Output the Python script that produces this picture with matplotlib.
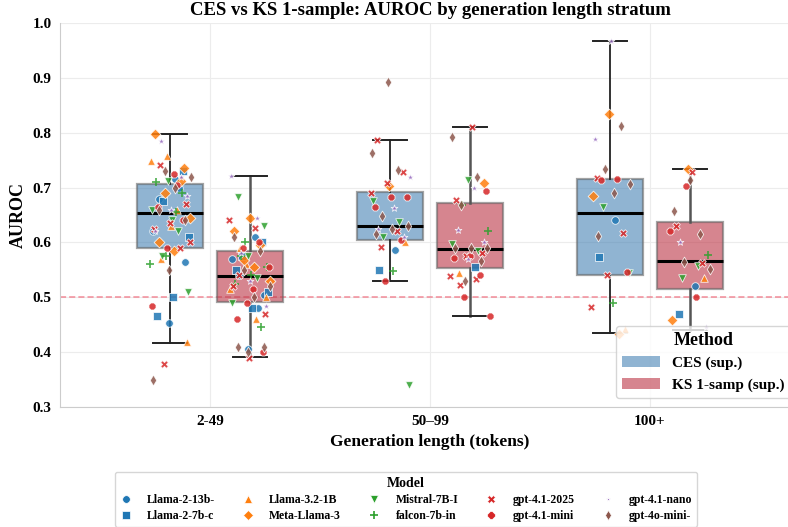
import matplotlib
matplotlib.use("Agg")
import matplotlib.pyplot as plt
from matplotlib.patches import Patch
from matplotlib.lines import Line2D
import numpy as np

# ---------------- data ----------------
strata = ["2-49", "50–99", "100+"]
methods = ["CES (sup.)", "KS 1-samp (sup.)"]
models = ["Llama-2-13b-", "Llama-2-7b-c", "Llama-3.2-1B", "Meta-Llama-3", "Mistral-7B-I",
          "falcon-7b-in", "gpt-4.1-2025", "gpt-4.1-mini", "gpt-4.1-nano", "gpt-4o-mini-"]

# box statistics per stratum: [2-49, 50-99, 100+]
ces_q1 = [0.589, 0.605, 0.541]
ces_med = [0.653, 0.630, 0.653]
ces_q3 = [0.707, 0.692, 0.716]
ces_lo = [0.417, 0.530, 0.434]
ces_hi = [0.797, 0.786, 0.967]

ks_q1 = [0.492, 0.553, 0.515]
ks_med = [0.538, 0.588, 0.567]
ks_q3 = [0.585, 0.671, 0.637]
ks_lo = [0.392, 0.466, 0.440]
ks_hi = [0.722, 0.810, 0.734]

# per-model AUROC values (order of `models`)
ces_short = [
    [0.715, 0.68, 0.565, 0.453, 0.62, 0.70],
    [0.675, 0.61, 0.50, 0.465, 0.73],
    [0.757, 0.748, 0.66, 0.57, 0.418, 0.63],
    [0.797, 0.712, 0.69, 0.645, 0.585, 0.60, 0.735],
    [0.712, 0.66, 0.62, 0.575, 0.51, 0.64],
    [0.71, 0.69, 0.575, 0.56, 0.655],
    [0.742, 0.67, 0.635, 0.625, 0.59, 0.378, 0.60],
    [0.725, 0.665, 0.64, 0.59, 0.485, 0.705],
    [0.785, 0.685, 0.66, 0.62, 0.72],
    [0.73, 0.72, 0.70, 0.66, 0.64, 0.55, 0.35],
]
ks_short = [
    [0.61, 0.54, 0.505, 0.405, 0.57, 0.48],
    [0.575, 0.51, 0.48, 0.55, 0.60],
    [0.56, 0.515, 0.46, 0.59, 0.50],
    [0.645, 0.62, 0.595, 0.568, 0.53, 0.555],
    [0.683, 0.63, 0.575, 0.49, 0.535],
    [0.575, 0.555, 0.54, 0.525, 0.445, 0.60],
    [0.64, 0.627, 0.54, 0.47, 0.39, 0.52],
    [0.60, 0.59, 0.555, 0.515, 0.46, 0.40, 0.49],
    [0.722, 0.645, 0.58, 0.485, 0.53],
    [0.61, 0.585, 0.55, 0.52, 0.50, 0.41, 0.41, 0.40],
]
ces_mid = [
    [0.586],
    [0.55],
    [0.60],
    [0.703],
    [0.676, 0.637, 0.61, 0.34],
    [0.548],
    [0.787, 0.728, 0.709, 0.69, 0.62, 0.591],
    [0.683, 0.683, 0.665, 0.605, 0.53],
    [0.72, 0.663, 0.625, 0.61],
    [0.892, 0.763, 0.732, 0.648, 0.63, 0.625, 0.615],
]
ks_mid = [
    [],
    [0.555],
    [0.545],
    [0.709],
    [0.714, 0.597, 0.585],
    [0.668, 0.620],
    [0.810, 0.677, 0.58, 0.575, 0.538, 0.533, 0.522],
    [0.693, 0.575, 0.572, 0.54, 0.501, 0.466],
    [0.70, 0.622, 0.60, 0.57],
    [0.792, 0.72, 0.668, 0.59, 0.59, 0.59, 0.567, 0.53],
]
ces_long = [
    [0.641],
    [0.573],
    [0.442],
    [0.834, 0.685, 0.433],
    [0.665, 0.545],
    [0.489],
    [0.717, 0.618, 0.540, 0.483],
    [0.715, 0.713, 0.547],
    [0.967, 0.788],
    [0.813, 0.733, 0.707, 0.690, 0.612],
]
ks_long = [
    [0.521],
    [0.469],
    [0.536],
    [0.734, 0.458],
    [0.557, 0.536],
    [0.577],
    [0.729, 0.630, 0.563],
    [0.703, 0.620, 0.501],
    [0.600, 0.446],
    [0.714, 0.657, 0.615, 0.565, 0.551],
]

# ---------------- styles ----------------
plt.rcParams["font.family"] = ["Liberation Serif", "DejaVu Serif"]
plt.rcParams["font.weight"] = "bold"
plt.rcParams["axes.labelweight"] = "bold"
plt.rcParams["axes.titleweight"] = "bold"

model_colors = ["#1f77b4", "#1f77b4", "#ff7f0e", "#ff7f0e", "#2ca02c", "#2ca02c",
                "#d62728", "#d62728", "#9467bd", "#8c564b"]
model_markers = ["o", "s", "^", "D", "v", "+", "X", "8", "*", "d"]
method_colors = ["#4682b4", "#bc3444"]
whisker_colors = ["#222222", "#555555"]
whisker_widths = [1.3, 1.8]
offsets = [-0.18, 0.18]

fig = plt.figure(figsize=(7.88, 5.27), dpi=100)
ax = fig.add_axes([60 / 788, 120 / 527, 740 / 788, 384 / 527])
ax.set_facecolor("white")
ax.grid(True, color="#ececec", linewidth=0.8, zorder=0)
ax.set_axisbelow(True)
for s in ["top", "right"]:
    ax.spines[s].set_visible(False)
for s in ["left", "bottom"]:
    ax.spines[s].set_color("#cccccc")

stats_sets = [(ces_q1, ces_med, ces_q3, ces_lo, ces_hi), (ks_q1, ks_med, ks_q3, ks_lo, ks_hi)]
for m, (q1, med, q3, lo, hi) in enumerate(stats_sets):
    stats = []
    for i in range(3):
        stats.append(dict(q1=q1[i], med=med[i], q3=q3[i], whislo=lo[i], whishi=hi[i], fliers=[]))
    pos = [i + offsets[m] for i in range(3)]
    ax.bxp(stats, positions=pos, widths=0.30, patch_artist=True, showfliers=False,
           boxprops=dict(facecolor=method_colors[m], alpha=0.6, edgecolor="#666666", linewidth=1.6),
           medianprops=dict(color="black", linewidth=2.2),
           whiskerprops=dict(color=whisker_colors[m], linewidth=whisker_widths[m]),
           capprops=dict(color="#222222", linewidth=1.4),
           capwidths=0.155, manage_ticks=False, zorder=2)

groups = [(ces_short, 0, 0), (ks_short, 0, 1), (ces_mid, 1, 0), (ks_mid, 1, 1),
          (ces_long, 2, 0), (ks_long, 2, 1)]
for data, i, m in groups:
    k = 0
    for j, vals in enumerate(data):
        xs = []
        for _ in vals:
            k += 1
            xs.append(i + offsets[m] + (((k * 0.618034) % 1.0) - 0.5) * 0.19)
        if not vals:
            continue
        mk = model_markers[j]
        size = 30 if mk != "*" else 26
        ec = "white" if mk != "+" else model_colors[j]
        ax.scatter(xs, vals, marker=mk, s=size, color=model_colors[j], edgecolors=ec,
                   linewidths=0.6 if mk != "+" else 1.2, alpha=0.85, zorder=3)

ax.axhline(0.5, color="#f07080", linestyle=(0, (4, 2)), linewidth=1.1, alpha=0.8, zorder=1)

ax.set_xlim(-0.682, 2.682)
ax.set_ylim(0.3, 1.0)
ax.set_xticks(range(3))
ax.set_xticklabels(strata, fontsize=11, fontweight="bold")
ax.set_yticks(np.arange(0.3, 1.01, 0.1))
ax.set_yticklabels([f"{v:.1f}" for v in np.arange(0.3, 1.01, 0.1)], fontsize=11, fontweight="bold")
ax.tick_params(length=0, pad=6)
ax.set_ylabel("AUROC", fontsize=13, fontweight="bold")
ax.set_xlabel("Generation length (tokens)", fontsize=12.5, fontweight="bold")
ax.set_title("CES vs KS 1-sample: AUROC by generation length stratum", fontsize=13.5, fontweight="bold")

# Method legend
mh = [Patch(facecolor=method_colors[m], alpha=0.6, edgecolor="none") for m in range(2)]
leg1 = ax.legend(mh, methods, title="Method", loc="lower right", fontsize=11,
                 title_fontproperties={"weight": "bold", "size": 13}, frameon=True,
                 borderaxespad=0.6, handlelength=2.5)
leg1.get_frame().set_edgecolor("#cccccc")
for t in leg1.get_texts():
    t.set_fontweight("bold")

# Model legend
hh = []
for j in range(len(models)):
    mk = model_markers[j]
    hh.append(Line2D([], [], linestyle="none", marker=mk, color=model_colors[j],
                     markersize=5.5 if mk != "*" else 3,
                     markeredgecolor="white" if mk != "+" else model_colors[j],
                     markeredgewidth=0.5 if mk != "+" else 1.2))
leg2 = fig.legend(hh, models, title="Model", loc="upper center", ncol=5, fontsize=8.5,
                  bbox_to_anchor=(406 / 788, 1 - 472 / 527), borderaxespad=0,
                  title_fontproperties={"weight": "bold", "size": 10}, frameon=True,
                  columnspacing=2.3, handlelength=1.0, handletextpad=1.3,
                  borderpad=0.4, labelspacing=0.35)
leg2.get_frame().set_edgecolor("#cccccc")
for t in leg2.get_texts():
    t.set_fontweight("bold")

fig.savefig("out.png", dpi=100)
